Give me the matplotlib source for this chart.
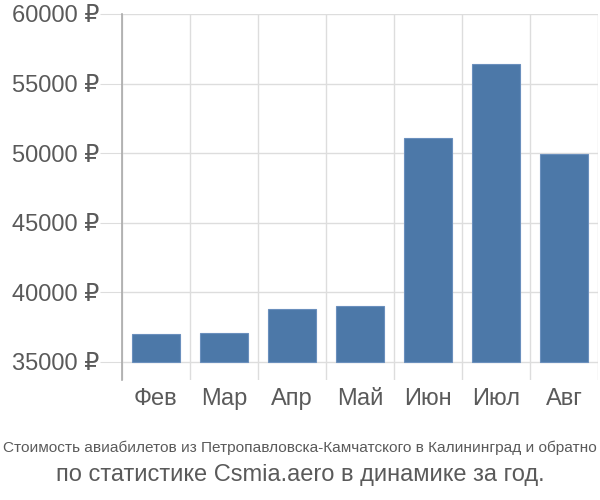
import matplotlib.pyplot as plt

# Monthly ticket prices (rubles)
months = ['Фев', 'Мар', 'Апр', 'Май', 'Июн', 'Июл', 'Авг']
prices = [37000, 37050, 38800, 39000, 51100, 56400, 49950]
y_ticks = [35000, 40000, 45000, 50000, 55000, 60000]

base = 35000

plt.rcParams['font.family'] = ['Liberation Sans', 'DejaVu Sans']

fig = plt.figure(figsize=(6, 5), dpi=100)
ax = fig.add_axes([0.203, 0.24, 0.794, 0.732])

x = list(range(len(months)))
heights = [p - base for p in prices]
ax.bar(x, heights, bottom=base, width=0.70, color='#4c78a8',
       edgecolor='#6a8fbd', linewidth=0.8, zorder=3)

ax.set_xlim(-0.5, len(months) - 0.5)
ax.set_ylim(33700, 60000)

ax.set_yticks(y_ticks)
ax.set_yticklabels([f'{v} ₽' for v in y_ticks])
ax.set_xticks(x)
ax.set_xticklabels(months)

# vertical grid lines at the category boundaries
for b in range(len(months) + 1):
    ax.axvline(b - 0.5, color='#dddddd', linewidth=1, zorder=1)
ax.grid(axis='y', color='#dddddd', linewidth=1, zorder=1)

ax.tick_params(axis='y', length=16, color='#dddddd', labelsize=17,
               labelcolor='#5a5a5a', pad=0)
ax.tick_params(axis='x', length=0, labelsize=17, labelcolor='#5a5a5a', pad=6)

for side in ['top', 'right', 'bottom']:
    ax.spines[side].set_visible(False)
ax.spines['left'].set_color('#aaaaaa')
ax.spines['left'].set_linewidth(1.2)
ax.spines['left'].set_zorder(4)

t1 = fig.text(0.5, 0.104, 'Стоимость авиабилетов из Петропавловска-Камчатского в Калининград и обратно',
              ha='center', va='center', fontsize=14, color='#5a5a5a',
              fontstretch='condensed')
fig.text(0.5, 0.05, 'по статистике Csmia.aero в динамике за год.',
         ha='center', va='center', fontsize=17, color='#5a5a5a')

# shrink the long first line so it fits the width
fig.canvas.draw()
w = t1.get_window_extent().width
if w > 598:
    t1.set_fontsize(14 * 598 / w)

fig.savefig('out.png', dpi=100)
